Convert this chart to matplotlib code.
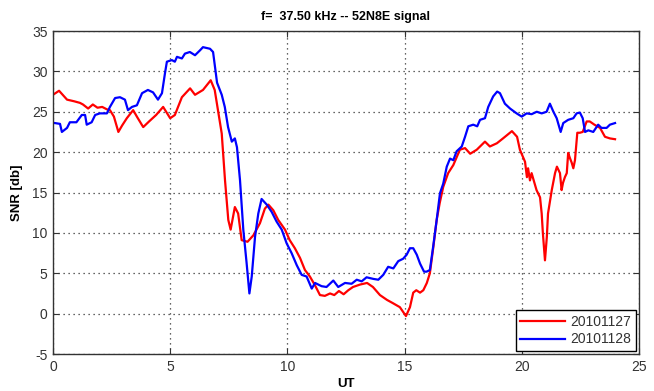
import matplotlib
matplotlib.use("Agg")
import matplotlib.pyplot as plt

# ---- data ----
red_t = [0.0, 0.26, 0.6, 0.9, 1.15, 1.28, 1.5, 1.7, 1.9, 2.1, 2.3, 2.43, 2.6, 2.79, 2.95, 3.15, 3.42,
         3.6, 3.85, 4.1, 4.4, 4.7, 5.0, 5.2, 5.5, 5.85, 6.06, 6.4, 6.73, 6.9, 7.05, 7.2, 7.34, 7.48,
         7.58, 7.76, 7.9, 8.05, 8.3, 8.55, 8.83, 9.04, 9.19, 9.4, 9.61, 9.9, 10.1, 10.32, 10.54,
         10.75, 10.96, 11.18, 11.39, 11.6, 11.82, 12.0, 12.2, 12.4, 12.6, 12.8, 13.1, 13.4, 13.65,
         13.95, 14.25, 14.5, 14.8, 15.06, 15.23, 15.37, 15.5, 15.66, 15.8, 15.95, 16.08, 16.23,
         16.37, 16.5, 16.65, 16.86, 17.08, 17.23, 17.36, 17.58, 17.8, 18.08, 18.43, 18.64, 18.94,
         19.2, 19.58, 19.8, 19.92, 20.14, 20.22, 20.27, 20.35, 20.42, 20.63, 20.78, 20.85, 20.9,
         20.99, 21.07, 21.12, 21.28, 21.42, 21.5, 21.63, 21.7, 21.76, 21.84, 21.92, 21.98, 22.05,
         22.13, 22.2, 22.27, 22.37, 22.48, 22.6, 22.77, 22.9, 23.1, 23.34, 23.55, 23.76, 23.98]
red_v = [27.1, 27.6, 26.5, 26.3, 26.1, 25.9, 25.4, 25.9, 25.5, 25.6, 25.3, 25.2, 24.4, 22.5, 23.3, 24.2, 25.2,
         24.3, 23.1, 23.8, 24.6, 25.6, 24.2, 24.6, 26.8, 27.9, 27.1, 27.7, 28.9, 27.7, 25.0, 22.3, 16.5, 11.6,
         10.4, 13.2, 12.4, 9.1, 8.9, 9.7, 11.2, 13.0, 13.5, 12.8, 11.6, 10.4, 9.1, 8.1, 6.9,
         5.4, 4.6, 3.5, 2.3, 2.2, 2.5, 2.3, 2.8, 2.4, 2.9, 3.3, 3.6, 3.8, 3.3,
         2.3, 1.7, 1.3, 0.8, -0.3, 0.8, 2.6, 2.9, 2.6, 2.9, 3.8, 5.0, 8.3,
         11.6, 13.7, 15.7, 17.4, 18.4, 19.4, 20.3, 20.5, 19.8, 20.3, 21.3, 20.7, 21.1,
         21.7, 22.6, 21.9, 20.3, 18.8, 16.9, 18.0, 16.5, 17.4, 15.3, 14.4, 12.4, 10.0,
         6.6, 9.5, 12.4, 15.3, 17.4, 18.2, 17.4, 15.3, 16.2, 16.9, 17.4, 19.9, 19.3,
         18.7, 18.0, 19.0, 22.4, 22.4, 22.5, 23.8, 23.8, 23.4, 23.0, 21.9, 21.7, 21.6]

blue_t = [0.08, 0.3, 0.38, 0.6, 0.72, 1.0, 1.23, 1.37, 1.44, 1.65, 1.8, 2.0, 2.3, 2.43, 2.65, 2.86,
          3.07, 3.2, 3.37, 3.58, 3.8, 4.05, 4.27, 4.48, 4.65, 4.78, 4.86, 5.07, 5.2, 5.29, 5.5,
          5.63, 5.84, 6.06, 6.27, 6.4, 6.7, 6.83, 7.0, 7.2, 7.33, 7.47, 7.63, 7.76, 7.85, 7.98,
          8.12, 8.26, 8.38, 8.48, 8.62, 8.76, 8.9, 9.12, 9.33, 9.54, 9.76, 9.97, 10.18, 10.4,
          10.61, 10.82, 11.04, 11.18, 11.46, 11.67, 11.96, 12.17, 12.46, 12.74, 12.96, 13.17,
          13.38, 13.67, 13.88, 14.09, 14.3, 14.52, 14.73, 14.94, 15.09, 15.23, 15.37, 15.52,
          15.66, 15.83, 15.94, 16.08, 16.22, 16.37, 16.51, 16.65, 16.8, 16.94, 17.08, 17.22,
          17.44, 17.58, 17.72, 17.93, 18.1, 18.22, 18.43, 18.57, 18.78, 18.95, 19.07, 19.28,
          19.5, 19.78, 20.0, 20.21, 20.42, 20.64, 20.85, 21.06, 21.2, 21.35, 21.49, 21.66,
          21.77, 21.98, 22.2, 22.34, 22.48, 22.6, 22.7, 22.84, 23.05, 23.26, 23.4, 23.62,
          23.76, 23.98]
blue_v = [23.6, 23.5, 22.5, 23.0, 23.7, 23.7, 24.6, 24.6, 23.4, 23.7, 24.6, 24.8, 24.8, 25.6, 26.7, 26.8,
          26.5, 25.2, 25.6, 25.8, 27.3, 27.7, 27.4, 26.5, 27.3, 29.8, 31.2, 31.4, 31.2, 31.8, 31.6,
          32.2, 32.4, 32.0, 32.6, 33.0, 32.8, 32.4, 28.6, 27.1, 25.6, 23.1, 21.3, 21.7, 20.6, 16.5,
          10.4, 6.3, 2.5, 4.6, 9.5, 12.4, 14.2, 13.5, 12.6, 11.4, 10.4, 8.7, 7.5, 6.0,
          4.8, 4.6, 3.1, 3.8, 3.4, 3.3, 4.1, 3.3, 3.8, 3.7, 4.2, 4.0,
          4.5, 4.3, 4.2, 4.8, 5.8, 5.6, 6.5, 6.8, 7.3, 8.1, 8.1, 7.3,
          6.2, 5.2, 5.2, 5.4, 8.3, 11.6, 14.9, 16.1, 18.2, 19.2, 19.0, 20.1,
          20.7, 21.9, 23.2, 23.4, 23.2, 24.0, 24.2, 25.6, 26.9, 27.5, 27.3, 26.0,
          25.4, 24.8, 24.4, 24.8, 24.7, 25.0, 24.8, 25.0, 26.0, 25.0, 24.2, 22.5,
          23.6, 24.0, 24.2, 24.8, 24.9, 24.2, 22.5, 22.7, 22.5, 23.4, 23.0, 23.0,
          23.4, 23.6]

labels = ["20101127", "20101128"]
xticks = [0, 5, 10, 15, 20, 25]
yticks = [-5, 0, 5, 10, 15, 20, 25, 30, 35]
title = "f=  37.50 kHz -- 52N8E signal"

plt.rcParams['font.family'] = ['Liberation Sans', 'DejaVu Sans']
plt.rcParams['axes.unicode_minus'] = False

fig = plt.figure(figsize=(6.54, 3.91), dpi=100)
ax = fig.add_axes([0.081, 0.0946, 0.896, 0.8261])

ax.plot(red_t, red_v, color='#ff0000', lw=1.6, label=labels[0])
ax.plot(blue_t, blue_v, color='#0000ff', lw=1.6, label=labels[1])

ax.set_xlim(0, 25)
ax.set_ylim(-5, 35)
ax.set_xticks(xticks)
ax.set_yticks(yticks)
ax.grid(True, linestyle=(0, (1, 3)), color='#333333', lw=0.9)
ax.tick_params(direction='in', top=True, right=True, length=4, labelsize=10,
               labelcolor='#333333', color='#333333', pad=4)
for s in ax.spines.values():
    s.set_color('#333333')
    s.set_linewidth(1.0)

ax.set_title(title, fontsize=9, fontweight='bold', pad=8)
ax.set_xlabel("UT", fontsize=9.5, fontweight='bold', labelpad=3)
ax.set_ylabel("SNR [db]", fontsize=9.5, fontweight='bold', labelpad=6)

leg = ax.legend(loc='lower right', fontsize=10, fancybox=False, framealpha=1,
                edgecolor='black', handlelength=3.2, borderpad=0.35,
                labelspacing=0.25, borderaxespad=0.2, handletextpad=0.4)
leg.get_frame().set_linewidth(1.0)
for t in leg.get_texts():
    t.set_color('#333333')

fig.savefig("out.png", dpi=100)
